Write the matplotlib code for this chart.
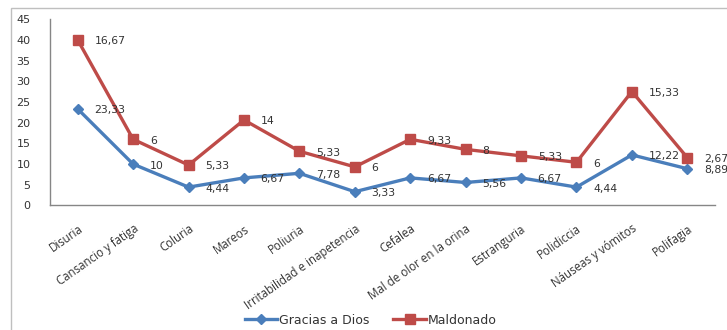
import matplotlib.pyplot as plt
from matplotlib.patches import Rectangle

# symptom categories
sintomas = ["Disuria", "Cansancio y fatiga", "Coluria", "Mareos", "Poliuria",
            "Irritabilidad e inapetencia", "Cefalea", "Mal de olor en la orina",
            "Estranguria", "Polidiccia", "Náuseas y vómitos", "Polifagia"]

# percentages per region (stacked line chart)
gracias = [23.33, 10, 4.44, 6.67, 7.78, 3.33, 6.67, 5.56, 6.67, 4.44, 12.22, 8.89]
maldonado = [16.67, 6, 5.33, 14, 5.33, 6, 9.33, 8, 5.33, 6, 15.33, 2.67]

y_ticks = [0, 5, 10, 15, 20, 25, 30, 35, 40, 45]

azul = "#4A7EBB"
rojo = "#BE4B48"
gris = "#868686"


def fmt(v):
    s = f"{v:g}"
    return s.replace(".", ",")


stack = [g + m for g, m in zip(gracias, maldonado)]
x = list(range(len(sintomas)))

fig = plt.figure(figsize=(7.27, 3.30), dpi=100)
ax = fig.add_axes([0.0688, 0.3773, 0.9147, 0.5642])

# outer chart frame
fig.patches.append(Rectangle((11 / 727, -0.01), 1.0, 1 - 8 / 330 + 0.01,
                             transform=fig.transFigure, fill=False,
                             edgecolor="#BFBFBF", linewidth=1.0))

ax.plot(x, gracias, color=azul, linewidth=2.4, marker="D", markersize=5.5,
        label="Gracias a Dios")
ax.plot(x, stack, color=rojo, linewidth=2.4, marker="s", markersize=7,
        label="Maldonado")

for xi, yv, lab in zip(x, gracias, gracias):
    ax.annotate(fmt(lab), (xi, yv), xytext=(12, -1), textcoords="offset points",
                ha="left", va="center", fontsize=7.8, color="#333333",
                family="DejaVu Sans")
for xi, yv, lab in zip(x, stack, maldonado):
    ax.annotate(fmt(lab), (xi, yv), xytext=(12, -1), textcoords="offset points",
                ha="left", va="center", fontsize=7.8, color="#333333",
                family="DejaVu Sans")

ax.set_xlim(-0.5, len(sintomas) - 0.5)
ax.set_ylim(0, 45)
ax.set_yticks(y_ticks)
ax.set_yticklabels([str(t) for t in y_ticks], fontsize=8, color="#333333",
                   family="DejaVu Sans")
ax.set_xticks(x)
ax.set_xticklabels(sintomas, rotation=35, ha="right", rotation_mode="anchor",
                   fontsize=8.3, color="#333333", family="Open Sans")
ax.tick_params(axis="y", length=0, pad=14)
ax.tick_params(axis="x", length=0, pad=12)

for s in ["top", "right"]:
    ax.spines[s].set_visible(False)
for s in ["left", "bottom"]:
    ax.spines[s].set_color(gris)
    ax.spines[s].set_linewidth(1.0)

leg = fig.legend(loc="center", bbox_to_anchor=(0.51, 0.03), ncol=2, frameon=False,
                 handlelength=2.6, handletextpad=0.15, columnspacing=1.9,
                 prop={"family": "DejaVu Sans", "size": 9})
for t in leg.get_texts():
    t.set_color("#333333")

fig.savefig("out.png", dpi=100)
